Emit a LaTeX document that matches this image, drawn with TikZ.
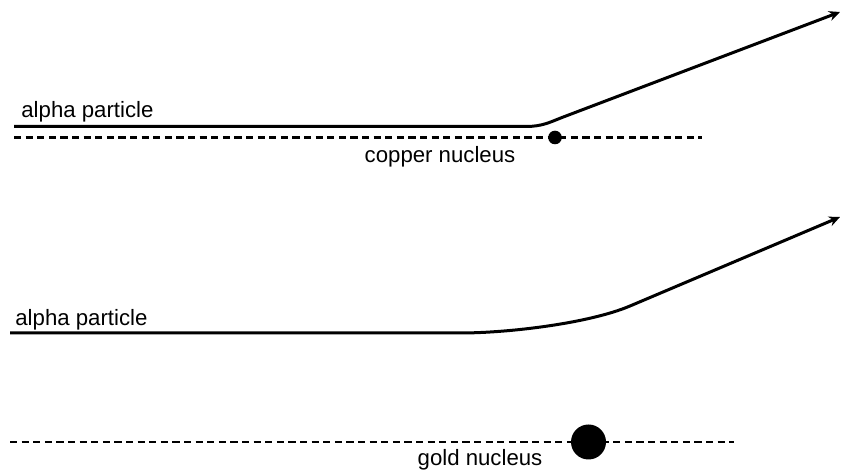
\documentclass[tikz,border=0pt]{standalone}
\usepackage{fontspec}
\setmainfont{Liberation Sans}
\usetikzlibrary{arrows.meta}

\begin{document}
\begin{tikzpicture}[
    x=0.5pt, y=-0.5pt,
    track/.style={line width=1.5pt, ->, >={Stealth[length=5.5pt, width=5pt]}},
    axisline/.style={line width=1.1pt, dash pattern=on 3.6pt off 2.2pt},
    nucleus/.style={circle, fill=black, inner sep=0pt},
    txt/.style={inner sep=0pt, font=\fontsize{11.1}{13}\selectfont}
]
    \useasboundingbox (0,0) rectangle (845,474);

    % Copper
    \coordinate (cuA) at (14,137.5);
    \coordinate (cuB) at (702,137.5);
    \draw[axisline] (cuA) -- (cuB);
    \node[nucleus, minimum size=6.8pt] (cu) at (555,137.5) {};
    \node[txt] (cuText) at (440,157) {copper nucleus};

    \coordinate (p1) at (14,126.5);
    \coordinate (p1a) at (526,126.5);
    \coordinate (p1b) at (562,117.5);
    \coordinate (p1end) at (840,12);
    \draw[track] (p1) -- (p1a) .. controls (542,126.5) and (550,122.2) .. (p1b) -- (p1end);
    \node[txt, anchor=west] (alpha1) at (21,111.5) {alpha particle};

    % Gold
    \coordinate (auA) at (10,442);
    \coordinate (auB) at (734,442);
    \draw[axisline] (auA) -- (auB);
    \node[nucleus, minimum size=17.5pt] (au) at (588.5,442) {};
    \node[txt] (auText) at (480,460) {gold nucleus};

    \coordinate (p2) at (10,333);
    \coordinate (p2a) at (460,333);
    \coordinate (p2b) at (630,306);
    \coordinate (p2end) at (840,217);
    \draw[track] (p2) -- (p2a) .. controls (510,333) and (590,323) .. (p2b) -- (p2end);
    \node[txt, anchor=west] (alpha2) at (15,320) {alpha particle};

\end{tikzpicture}
\end{document}
